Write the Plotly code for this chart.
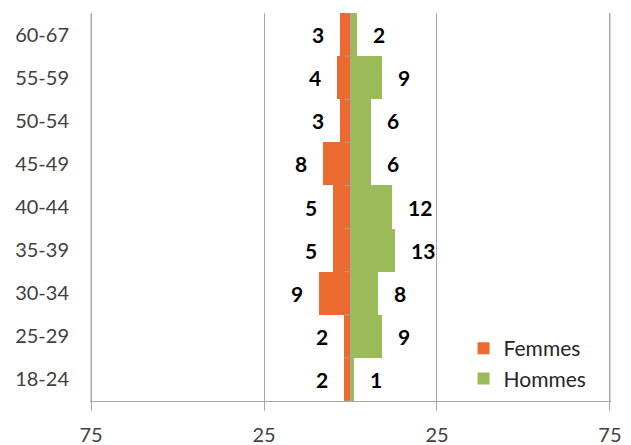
import plotly.graph_objects as go

# Age groups, bottom to top
age_groups = ["18-24", "25-29", "30-34", "35-39", "40-44", "45-49", "50-54", "55-59", "60-67"]
femmes = [2, 2, 9, 5, 5, 8, 3, 4, 3]
hommes = [1, 9, 8, 13, 12, 6, 6, 9, 2]

tick_vals = [-75, -25, 25, 75]
tick_text = ["75", "25", "25", "75"]

ORANGE = "#EB6A2F"
GREEN = "#9BBB59"
GRID = "#A6A6A6"
FONT = "Lato, Carlito, Calibri, sans-serif"

fig = go.Figure()
fig.add_trace(go.Bar(
    y=age_groups, x=[-v for v in femmes], orientation="h", name="Femmes",
    marker=dict(color=ORANGE, line=dict(width=0)),
    customdata=femmes, hovertemplate="%{y}: %{customdata}<extra>Femmes</extra>",
))
fig.add_trace(go.Bar(
    y=age_groups, x=hommes, orientation="h", name="Hommes",
    marker=dict(color=GREEN, line=dict(width=0)),
    hovertemplate="%{y}: %{x}<extra>Hommes</extra>",
))

# value labels beside each bar
for g, f, h in zip(age_groups, femmes, hommes):
    fig.add_annotation(x=-f, y=g, text=f"<b>{f}</b>", showarrow=False,
                       xanchor="right", xshift=-14,
                       font=dict(family=FONT, size=21, color="#000000"))
    fig.add_annotation(x=h, y=g, text=f"<b>{h}</b>", showarrow=False,
                       xanchor="left", xshift=14,
                       font=dict(family=FONT, size=21, color="#000000"))

# central category axis, drawn over the bars, with ticks at category boundaries
fig.add_shape(type="line", xref="x", yref="paper", x0=0, x1=0, y0=0, y1=1,
              line=dict(color=GRID, width=1), layer="above")
for i in range(len(age_groups) + 1):
    fig.add_shape(type="line", xref="x", yref="y", xsizemode="pixel", xanchor=0,
                  x0=-6, x1=0, y0=i - 0.5, y1=i - 0.5,
                  line=dict(color=GRID, width=1), layer="above")

# outer gridlines at the ends of the value range
for v in (tick_vals[0], tick_vals[-1]):
    fig.add_shape(type="line", xref="x", yref="paper", x0=v, x1=v, y0=0, y1=1,
                  line=dict(color=GRID, width=1), layer="below")

fig.update_layout(
    width=631, height=445,
    margin=dict(l=90, r=20, t=13, b=44),
    paper_bgcolor="white", plot_bgcolor="white",
    barmode="relative", bargap=0,
    font=dict(family=FONT, size=20, color="#404040"),
    xaxis=dict(
        range=[-75.3, 75.3], tickvals=tick_vals, ticktext=tick_text,
        showgrid=True, gridcolor=GRID, gridwidth=1, zeroline=False,
        showline=True, linecolor=GRID, linewidth=1,
        ticks="outside", ticklen=9, tickcolor=GRID,
        ticklabelstandoff=7, automargin=False,
        tickfont=dict(family=FONT, size=20, color="#404040"),
    ),
    yaxis=dict(
        type="category", categoryorder="array", categoryarray=age_groups,
        range=[-0.5, len(age_groups) - 0.5],
        showgrid=False, zeroline=False, showline=False, ticks="",
        ticklabelstandoff=20, automargin=False,
        tickfont=dict(family=FONT, size=20, color="#404040"),
    ),
    legend=dict(
        x=0.717, y=0.005, xanchor="left", yanchor="bottom",
        bgcolor="rgba(0,0,0,0)", traceorder="normal",
        font=dict(family=FONT, size=21, color="#262626"),
    ),
)

fig.write_html("out.html")
